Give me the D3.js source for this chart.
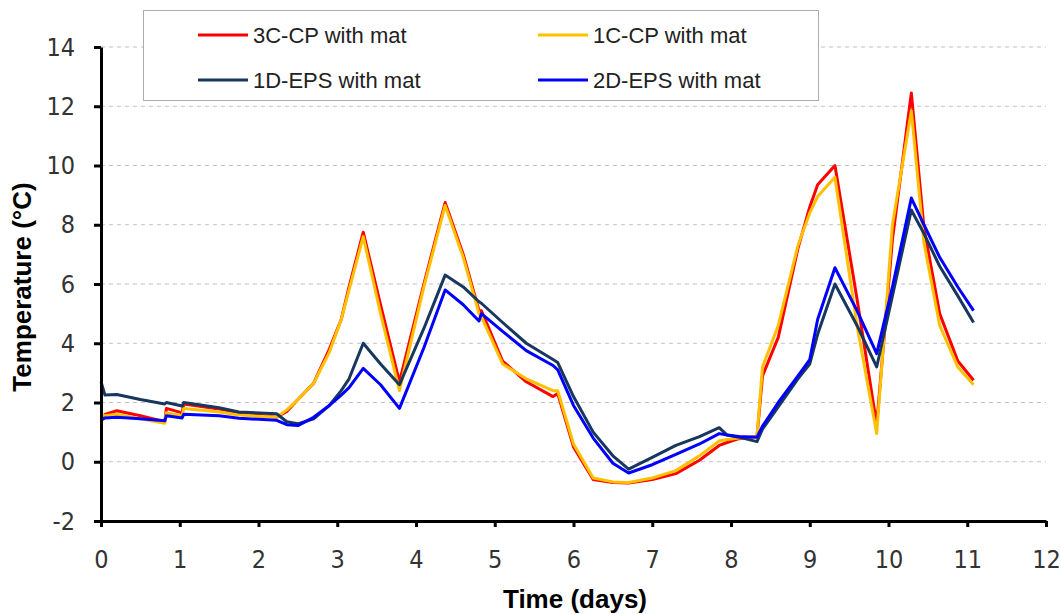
<!DOCTYPE html>
<html>
<head>
<meta charset="utf-8">
<script src="https://cdn.jsdelivr.net/npm/d3@7"></script>
<style>
  body { margin: 0; background: #fff; }
  text { font-family: "Liberation Sans", Arial, sans-serif; }
</style>
</head>
<body>
<div id="canvas"></div>
<script>
// time in days, shared by all four series
var days = [0, 0.05, 0.2, 0.5, 0.81, 0.83, 1.03, 1.05, 1.5, 1.75, 2.23, 2.36, 2.5, 2.7, 2.9,
  3.05, 3.15, 3.33, 3.55, 3.79, 4.1, 4.37, 4.6, 4.8, 4.83, 5.1, 5.4, 5.74, 5.8, 6.0, 6.25,
  6.5, 6.7, 7.0, 7.3, 7.6, 7.85, 7.95, 8.1, 8.33, 8.4, 8.6, 8.85, 9.0, 9.1, 9.32, 9.6, 9.85,
  10.05, 10.29, 10.45, 10.65, 10.88, 11.08];

var cp3 = [1.4, 1.6, 1.72, 1.55, 1.35, 1.8, 1.65, 1.95, 1.78, 1.65, 1.5, 1.7, 2.1, 2.65, 3.8,
  4.8, 5.9, 7.75, 5.3, 2.7, 6.0, 8.75, 7.0, 5.1, 5.1, 3.4, 2.7, 2.2, 2.3, 0.5, -0.6,
  -0.7, -0.72, -0.6, -0.4, 0.05, 0.55, 0.65, 0.78, 0.85, 2.9, 4.2, 7.2, 8.6, 9.35, 10.0, 5.5, 1.25,
  7.5, 12.45, 7.9, 5.0, 3.4, 2.75];

var cp1 = [1.6, 1.55, 1.6, 1.45, 1.3, 1.65, 1.55, 1.8, 1.68, 1.58, 1.5, 1.75, 2.1, 2.65, 3.7,
  4.8, 5.8, 7.6, 5.0, 2.4, 5.9, 8.65, 6.9, 5.0, 4.9, 3.3, 2.8, 2.4, 2.4, 0.6, -0.55,
  -0.68, -0.7, -0.55, -0.3, 0.2, 0.7, 0.75, 0.8, 0.85, 3.2, 4.6, 7.3, 8.4, 8.95, 9.6, 4.6, 0.95,
  8.0, 11.85, 7.4, 4.6, 3.2, 2.6];

var eps1 = [2.7, 2.25, 2.27, 2.1, 1.95, 2.0, 1.88, 2.0, 1.82, 1.68, 1.62, 1.35, 1.28, 1.45, 1.9,
  2.4, 2.8, 4.0, 3.3, 2.6, 4.5, 6.3, 5.9, 5.4, 5.35, 4.7, 4.0, 3.45, 3.35, 2.2, 1.0,
  0.2, -0.25, 0.15, 0.55, 0.85, 1.15, 0.9, 0.83, 0.68, 1.1, 1.85, 2.8, 3.3, 4.3, 6.0, 4.6, 3.2,
  5.6, 8.5, 7.7, 6.6, 5.6, 4.7];

var eps2 = [1.4, 1.48, 1.5, 1.45, 1.38, 1.55, 1.48, 1.6, 1.55, 1.47, 1.4, 1.25, 1.22, 1.5, 1.9,
  2.25, 2.5, 3.15, 2.6, 1.8, 3.85, 5.8, 5.3, 4.75, 5.0, 4.4, 3.75, 3.25, 3.1, 1.9, 0.8,
  -0.05, -0.38, -0.1, 0.25, 0.6, 0.95, 0.9, 0.85, 0.83, 1.2, 2.0, 2.9, 3.45, 4.8, 6.55, 5.1, 3.65,
  5.9, 8.9, 8.0, 6.9, 5.9, 5.1];

var seriesNames = ["3C-CP with mat", "1C-CP with mat", "1D-EPS with mat", "2D-EPS with mat"];
var seriesColors = ["#ff0000", "#ffc000", "#17375e", "#0000ff"];
var seriesValues = [cp3, cp1, eps1, eps2];

var xTicks = [0, 1, 2, 3, 4, 5, 6, 7, 8, 9, 10, 11, 12];
var yTicks = [-2, 0, 2, 4, 6, 8, 10, 12, 14];

var margin = { top: 47, right: 15, bottom: 93, left: 101 };
var width = 1061 - margin.left - margin.right;
var height = 614 - margin.top - margin.bottom;

var svg = d3.select("#canvas").append("svg")
  .attr("width", 1061)
  .attr("height", 614);

var g = svg.append("g")
  .attr("transform", "translate(" + margin.left + "," + margin.top + ")");

var x = d3.scaleLinear().domain([0, 12]).range([0, 945]);
var y = d3.scaleLinear().domain([-2, 14]).range([height, 0]);

// dashed gridlines
g.selectAll(".grid")
  .data(yTicks.filter(function (d) { return d > -2; }))
  .enter().append("line")
  .attr("x1", 0)
  .attr("x2", x(12))
  .attr("y1", function (d) { return y(d); })
  .attr("y2", function (d) { return y(d); })
  .attr("stroke", "#c8c0c4")
  .attr("stroke-width", 1)
  .attr("stroke-dasharray", "4,4");

// series lines
var line = d3.line()
  .x(function (d) { return x(d[0]); })
  .y(function (d) { return y(d[1]); });

seriesValues.forEach(function (vals, i) {
  var pts = days.map(function (t, j) { return [t, vals[j]]; });
  g.append("path")
    .datum(pts)
    .attr("fill", "none")
    .attr("stroke", seriesColors[i])
    .attr("stroke-width", 3)
    .attr("stroke-linejoin", "round")
    .attr("d", line);
});

// axes
var plain = function (d) { return String(d); };
var xAxis = g.append("g")
  .attr("transform", "translate(0," + height + ")")
  .call(d3.axisBottom(x).tickValues(xTicks).tickFormat(plain)
    .tickSize(6).tickPadding(23).tickSizeOuter(0));
var yAxis = g.append("g")
  .call(d3.axisLeft(y).tickValues(yTicks).tickFormat(plain)
    .tickSize(7).tickPadding(19).tickSizeOuter(0));

[xAxis, yAxis].forEach(function (ax) {
  ax.select(".domain").attr("stroke", "#000").attr("stroke-width", 3);
  ax.selectAll(".tick line").attr("stroke", "#000").attr("stroke-width", 3);
  ax.selectAll(".tick text")
    .attr("fill", "#333")
    .style("font-size", "25px")
    .style("font-stretch", "condensed")
    .style("font-family", "'Liberation Sans Narrow', 'DejaVu Sans Condensed', Arial, sans-serif");
});

// axis titles
svg.append("text")
  .attr("transform", "translate(31,287) rotate(-90)")
  .attr("text-anchor", "middle")
  .style("font-size", "26px")
  .style("font-weight", "bold")
  .text("Temperature (°C)");

svg.append("text")
  .attr("x", 575)
  .attr("y", 608)
  .attr("text-anchor", "middle")
  .style("font-size", "26px")
  .style("font-weight", "bold")
  .text("Time (days)");

// legend
var legend = svg.append("g");
legend.append("rect")
  .attr("x", 143.5)
  .attr("y", 10.5)
  .attr("width", 675)
  .attr("height", 90)
  .attr("fill", "#fff")
  .attr("stroke", "#b0aab0")
  .attr("stroke-width", 1);

var legendPos = [[198, 35], [538, 35], [198, 80], [538, 80]];
seriesNames.forEach(function (name, i) {
  var p = legendPos[i];
  legend.append("line")
    .attr("x1", p[0]).attr("x2", p[0] + 50)
    .attr("y1", p[1]).attr("y2", p[1])
    .attr("stroke", seriesColors[i])
    .attr("stroke-width", 3);
  legend.append("text")
    .attr("x", p[0] + 55)
    .attr("y", p[1] + 8)
    .attr("fill", "#222")
    .style("font-size", "22px")
    .text(name);
});
</script>
</body>
</html>
